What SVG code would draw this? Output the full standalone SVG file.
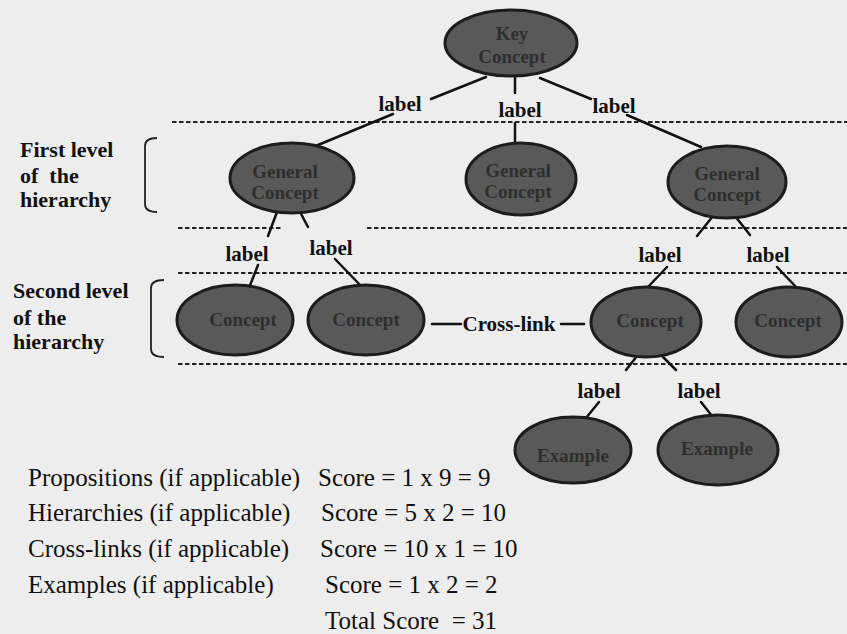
<svg xmlns="http://www.w3.org/2000/svg" width="847" height="634" viewBox="0 0 847 634">
<style>
.bg{fill:#ededed}
.node{fill:#595959;stroke:#1c1c1c;stroke-width:3}
.nt{font-family:"Liberation Serif",serif;font-weight:bold;font-size:19px;fill:#2e2e2e;text-anchor:middle}
.lbl{font-family:"Liberation Serif",serif;font-weight:bold;font-size:21px;fill:#111;text-anchor:middle}
.side{font-family:"Liberation Serif",serif;font-weight:bold;font-size:22px;fill:#111}
.score{font-family:"Liberation Serif",serif;font-size:25px;fill:#111}
.dash{stroke:#222;stroke-width:2;stroke-dasharray:4.5 2.5;fill:none}
.conn line{stroke:#111;stroke-width:2.5;stroke-linecap:round}
.brk{fill:none;stroke:#222;stroke-width:1.8}
</style>
<rect class="bg" x="0" y="0" width="847" height="634"/>

<g id="levels">
<line class="dash" x1="172" y1="122" x2="847" y2="122"/>
<line class="dash" x1="178" y1="228" x2="283" y2="228"/>
<line class="dash" x1="367" y1="228" x2="847" y2="228"/>
<line class="dash" x1="178" y1="273" x2="847" y2="273"/>
<line class="dash" x1="178" y1="364" x2="847" y2="364"/>
<path class="brk" d="M157,138 Q145,138 145,146 L145,204 Q145,212 157,212"/>
<path class="brk" d="M164,280 Q151,280 151,288 L151,349 Q151,357 164,357"/>
<text class="side" x="20" y="157">First level</text>
<text class="side" x="20" y="183" xml:space="preserve">of  the</text>
<text class="side" x="20" y="207">hierarchy</text>
<text class="side" x="13" y="298">Second level</text>
<text class="side" x="13" y="325">of the</text>
<text class="side" x="13" y="349">hierarchy</text>
</g>

<g id="connectors" class="conn">
<line x1="486" y1="77" x2="431" y2="99"/>
<line x1="515" y1="77" x2="515" y2="93"/>
<line x1="540" y1="78" x2="591" y2="99"/>
<line x1="393" y1="114" x2="318" y2="145"/>
<line x1="515" y1="123" x2="515" y2="142"/>
<line x1="627" y1="115" x2="701" y2="147"/>
<line x1="277" y1="212" x2="268" y2="236"/>
<line x1="300" y1="212" x2="308" y2="227"/>
<line x1="258" y1="265" x2="249" y2="288"/>
<line x1="335" y1="259" x2="362" y2="287"/>
<line x1="713" y1="216" x2="697" y2="236"/>
<line x1="735" y1="216" x2="750" y2="235"/>
<line x1="667" y1="267" x2="647" y2="288"/>
<line x1="777" y1="267" x2="797" y2="288"/>
<line x1="637" y1="356" x2="626" y2="370"/>
<line x1="662" y1="356" x2="676" y2="370"/>
<line x1="599" y1="402" x2="586" y2="418"/>
<line x1="701" y1="402" x2="712" y2="416"/>
<line x1="432" y1="324" x2="461" y2="324"/>
<line x1="561" y1="324" x2="584" y2="324"/>
</g>

<g id="labels">
<text class="lbl" x="400" y="111">label</text>
<text class="lbl" x="520" y="117">label</text>
<text class="lbl" x="614" y="113">label</text>
<text class="lbl" x="247" y="261">label</text>
<text class="lbl" x="331" y="255">label</text>
<text class="lbl" x="660" y="262">label</text>
<text class="lbl" x="768" y="262">label</text>
<text class="lbl" x="599" y="398">label</text>
<text class="lbl" x="699" y="398">label</text>
<text class="lbl" x="509" y="331">Cross-link</text>
</g>

<g id="key-concept">
<ellipse class="node" cx="511" cy="43" rx="66" ry="33"/>
<text class="nt" x="512" y="40">Key</text>
<text class="nt" x="512" y="63">Concept</text>
</g>
<g id="general-concept-1">
<ellipse class="node" cx="292" cy="178" rx="62" ry="35"/>
<text class="nt" x="285" y="178">General</text>
<text class="nt" x="285" y="199">Concept</text>
</g>
<g id="general-concept-2">
<ellipse class="node" cx="521" cy="179" rx="55" ry="36"/>
<text class="nt" x="518" y="177">General</text>
<text class="nt" x="518" y="198">Concept</text>
</g>
<g id="general-concept-3">
<ellipse class="node" cx="727" cy="182" rx="59" ry="36"/>
<text class="nt" x="727" y="180">General</text>
<text class="nt" x="727" y="201">Concept</text>
</g>
<g id="concept-1">
<ellipse class="node" cx="235" cy="320" rx="58" ry="35"/>
<text class="nt" x="243" y="326">Concept</text>
</g>
<g id="concept-2">
<ellipse class="node" cx="366" cy="320" rx="58" ry="35"/>
<text class="nt" x="366" y="326">Concept</text>
</g>
<g id="concept-3">
<ellipse class="node" cx="646" cy="322" rx="55" ry="35"/>
<text class="nt" x="650" y="327">Concept</text>
</g>
<g id="concept-4">
<ellipse class="node" cx="789" cy="322" rx="53" ry="35"/>
<text class="nt" x="788" y="327">Concept</text>
</g>
<g id="example-1">
<ellipse class="node" cx="573" cy="450" rx="58" ry="33"/>
<text class="nt" x="573" y="462">Example</text>
</g>
<g id="example-2">
<ellipse class="node" cx="718" cy="450" rx="60" ry="35"/>
<text class="nt" x="717" y="455">Example</text>
</g>

<g id="scores">
<text class="score" x="28" y="486">Propositions (if applicable)</text>
<text class="score" x="318" y="486">Score = 1 x 9 = 9</text>
<text class="score" x="28" y="521">Hierarchies (if applicable)</text>
<text class="score" x="321" y="521">Score = 5 x 2 = 10</text>
<text class="score" x="28" y="557">Cross-links (if applicable)</text>
<text class="score" x="320" y="557">Score = 10 x 1 = 10</text>
<text class="score" x="28" y="593">Examples (if applicable)</text>
<text class="score" x="325" y="593">Score = 1 x 2 = 2</text>
<text class="score" x="325" y="629" xml:space="preserve">Total Score  = 31</text>
</g>
</svg>
